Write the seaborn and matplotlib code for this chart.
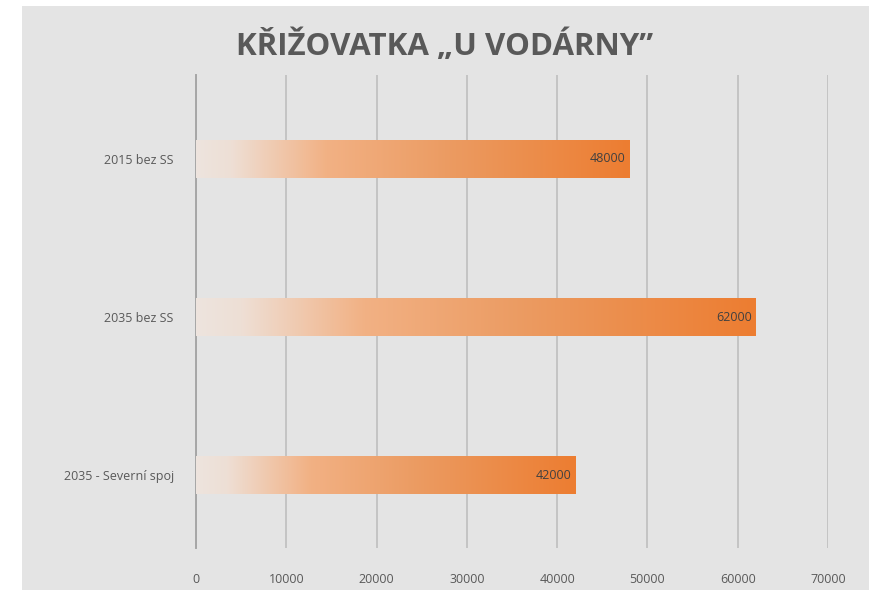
import numpy as np
import seaborn as sns
import matplotlib.pyplot as plt
from matplotlib.colors import LinearSegmentedColormap
from matplotlib.patches import Rectangle

categories = ['2015 bez SS', '2035 bez SS', '2035 - Severní spoj']
values = [48000, 62000, 42000]
title = 'KŘIŽOVATKA „U VODÁRNY”'

sns.set_style('white')
plt.rcParams['font.family'] = ['Open Sans', 'DejaVu Sans']

fig = plt.figure(figsize=(8.74, 5.94), dpi=100)
fig.patch.set_facecolor('white')
# grey chart area with a thin white margin
fig.patches.append(Rectangle((22 / 874, 4 / 594), 847 / 874, 584 / 594,
                             transform=fig.transFigure, facecolor='#e4e4e4',
                             edgecolor='none', zorder=-10))

ax = fig.add_axes([196 / 874, 46 / 594, 632 / 874, 473 / 594])
ax.set_facecolor('#e4e4e4')

sns.barplot(x=values, y=categories, orient='h', color='#ed7d31', width=0.24, ax=ax)

# gradient fill for every bar
cmap = LinearSegmentedColormap.from_list(
    'grad', [(0.0, '#ede4de'), (0.08, '#eedfd5'), (0.3, '#f2b184'),
             (0.6, '#eb9a60'), (1.0, '#ed7d31')])
grad = np.linspace(0, 1, 256).reshape(1, -1)
for p, v in zip(ax.patches, values):
    x0, y0 = p.get_x(), p.get_y()
    w, h = p.get_width(), p.get_height()
    p.set_facecolor('none')
    p.set_edgecolor('none')
    im = ax.imshow(grad, cmap=cmap, aspect='auto', extent=[x0, x0 + w, y0 + h, y0],
                   zorder=3)
    im.set_clip_path(p)
    ax.text(x0 + w - 0.006 * 70000, y0 + h / 2, f'{v}', ha='right', va='center',
            fontsize=9, color='#404040', zorder=4)

ax.set_xlim(0, 70000)
ax.set_ylim(2.46, -0.53)
ax.set_xticks(np.arange(0, 70001, 10000))
ax.xaxis.grid(True, color='#c4c4c4', linewidth=1.4, zorder=0)
ax.set_axisbelow(True)
ax.tick_params(axis='both', length=0, labelsize=9, colors='#595959')
ax.tick_params(axis='x', pad=18)
ax.tick_params(axis='y', pad=16)
for s in ['top', 'right', 'bottom']:
    ax.spines[s].set_visible(False)
ax.spines['left'].set_color('#a6a6a6')
ax.spines['left'].set_linewidth(1.4)
ax.set_xlabel('')
ax.set_ylabel('')

fig.text(445 / 874, 1 - 46 / 594, title, ha='center', va='center',
         fontsize=22.5, fontweight='bold', color='#595959')

fig.savefig('out.png', dpi=100)
